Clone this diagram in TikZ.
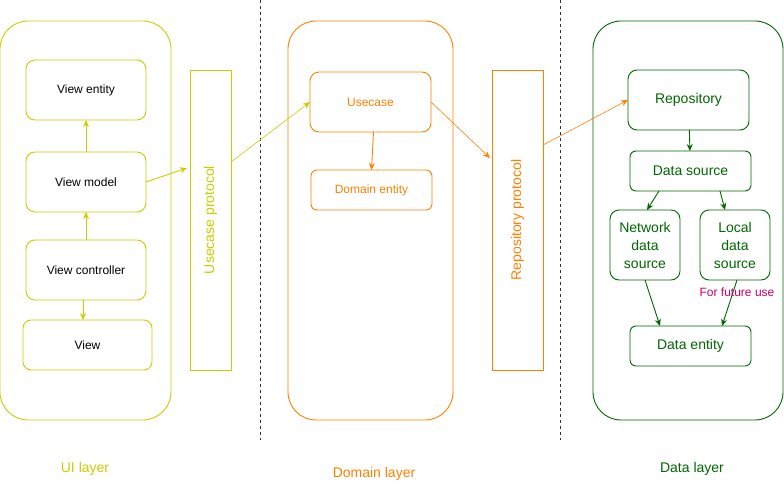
\documentclass[tikz,border=0pt]{standalone}
\usepackage{fontspec}
\setmainfont{Liberation Sans}
\usetikzlibrary{arrows.meta}

\definecolor{uicol}{HTML}{CCCC00}
\definecolor{domcol}{HTML}{FF8000}
\definecolor{datacol}{HTML}{006600}
\definecolor{notecol}{HTML}{CC0066}
\definecolor{sepcol}{HTML}{333333}

\begin{document}
\begin{tikzpicture}[x=1pt,y=-1pt,
    box/.style={draw,line width=0.9pt,inner sep=0pt,outer sep=0pt,align=center,font=\fontsize{12}{14}\selectfont},
    layerbox/.style={box,rounded corners=28pt},
    protobox/.style={box,font=\fontsize{14}{16}\selectfont,rotate=90},
    arr/.style={line width=0.9pt,-{Stealth[length=7pt,width=6pt]}},
    thinarr/.style={line width=0.6pt,-{Stealth[length=7pt,width=6pt]}},
    layertext/.style={font=\fontsize{14}{16}\selectfont}]

    \useasboundingbox (0,0) rectangle (784,484);

    \coordinate (sepAtop) at (260,0);
    \coordinate (sepAbot) at (260,440);
    \coordinate (sepBtop) at (560,0);
    \coordinate (sepBbot) at (560,440);
    \draw[sepcol,line width=0.9pt,dash pattern=on 3pt off 3pt] (sepAtop) -- (sepAbot);
    \draw[sepcol,line width=0.9pt,dash pattern=on 3pt off 3pt] (sepBtop) -- (sepBbot);

    \node[layerbox,uicol,minimum width=171,minimum height=399] (uilayer) at (85.5,220.5) {};
    \node[box,uicol,text=black,rounded corners=9pt,minimum width=120,minimum height=60] (vent) at (86,90) {View entity};
    \node[box,uicol,text=black,rounded corners=9pt,minimum width=120,minimum height=60] (vmodel) at (86,182) {View model};
    \node[box,uicol,text=black,rounded corners=9pt,minimum width=120,minimum height=60] (vctrl) at (86,270) {View controller};
    \node[box,uicol,text=black,rounded corners=8pt,minimum width=129,minimum height=50] (view) at (87.5,345) {View};
    \node[protobox,uicol,minimum width=300,minimum height=41] (uproto) at (210.5,220) {Usecase protocol};

    \node[layerbox,domcol,minimum width=165,minimum height=399] (domlayer) at (370.5,220.5) {};
    \node[box,domcol,rounded corners=9pt,minimum width=121,minimum height=60] (usecase) at (370.5,102) {Usecase};
    \node[box,domcol,rounded corners=6pt,minimum width=121,minimum height=40] (dentity) at (371.5,190) {Domain entity};
    \node[protobox,domcol,minimum width=300,minimum height=51] (rproto) at (517.5,220) {Repository protocol};

    \node[layerbox,datacol,minimum width=190,minimum height=399] (datalayer) at (688,220.5) {};
    \node[box,datacol,font=\fontsize{14}{16}\selectfont,rounded corners=9pt,minimum width=121,minimum height=60] (repo) at (688.5,100) {Repository};
    \node[box,datacol,font=\fontsize{14}{16}\selectfont,rounded corners=6pt,minimum width=121,minimum height=40] (dsource) at (690.5,171) {Data source};
    \node[box,datacol,font=\fontsize{14}{18}\selectfont,rounded corners=9pt,minimum width=70,minimum height=70] (netsrc) at (645,245) {Network\\data\\source};
    \node[box,datacol,font=\fontsize{14}{18}\selectfont,rounded corners=9pt,minimum width=70,minimum height=70] (localsrc) at (735,245) {Local\\data\\source};
    \node[box,datacol,font=\fontsize{14}{16}\selectfont,rounded corners=6pt,minimum width=121,minimum height=40] (dataent) at (690.5,346) {Data entity};

    \draw[arr,uicol] (vmodel) -- (vent);
    \draw[arr,uicol] (vctrl) -- (vmodel);
    \draw[arr,uicol] ([xshift=-3pt]vctrl.south) -- ([xshift=-4.5pt]view.north);
    \draw[arr,uicol] (vmodel.east) -- ([xshift=-3pt,yshift=52pt]uproto.north);
    \draw[thinarr,uicol] ([yshift=58pt]uproto.south) -- (usecase.west);

    \draw[arr,domcol] ([xshift=3pt]usecase.south) -- (dentity.north);
    \draw[thinarr,domcol] (usecase.east) -- ([xshift=-2pt,yshift=62pt]rproto.north);
    \draw[thinarr,domcol] ([yshift=75pt]rproto.south) -- (repo.west);

    \draw[arr,datacol] (repo) -- (dsource);
    \draw[arr,datacol] ([xshift=-31.5pt]dsource.south) -- ([xshift=2pt]netsrc.north);
    \draw[arr,datacol] ([xshift=29.5pt]dsource.south) -- ([xshift=-10pt]localsrc.north);
    \draw[arr,datacol] (netsrc.south) -- ([xshift=-30.5pt]dataent.north);
    \draw[arr,datacol] ([xshift=2pt]localsrc.south) -- ([xshift=31.5pt]dataent.north);

    \node[notecol,font=\fontsize{12}{14}\selectfont] (futnote) at (737,292) {For future use};

    \node[layertext,uicol] (uilabel) at (85,469) {UI layer};
    \node[layertext,domcol] (domlabel) at (374,474) {Domain layer};
    \node[layertext,datacol] (datalabel) at (692,469) {Data layer};
\end{tikzpicture}
\end{document}
